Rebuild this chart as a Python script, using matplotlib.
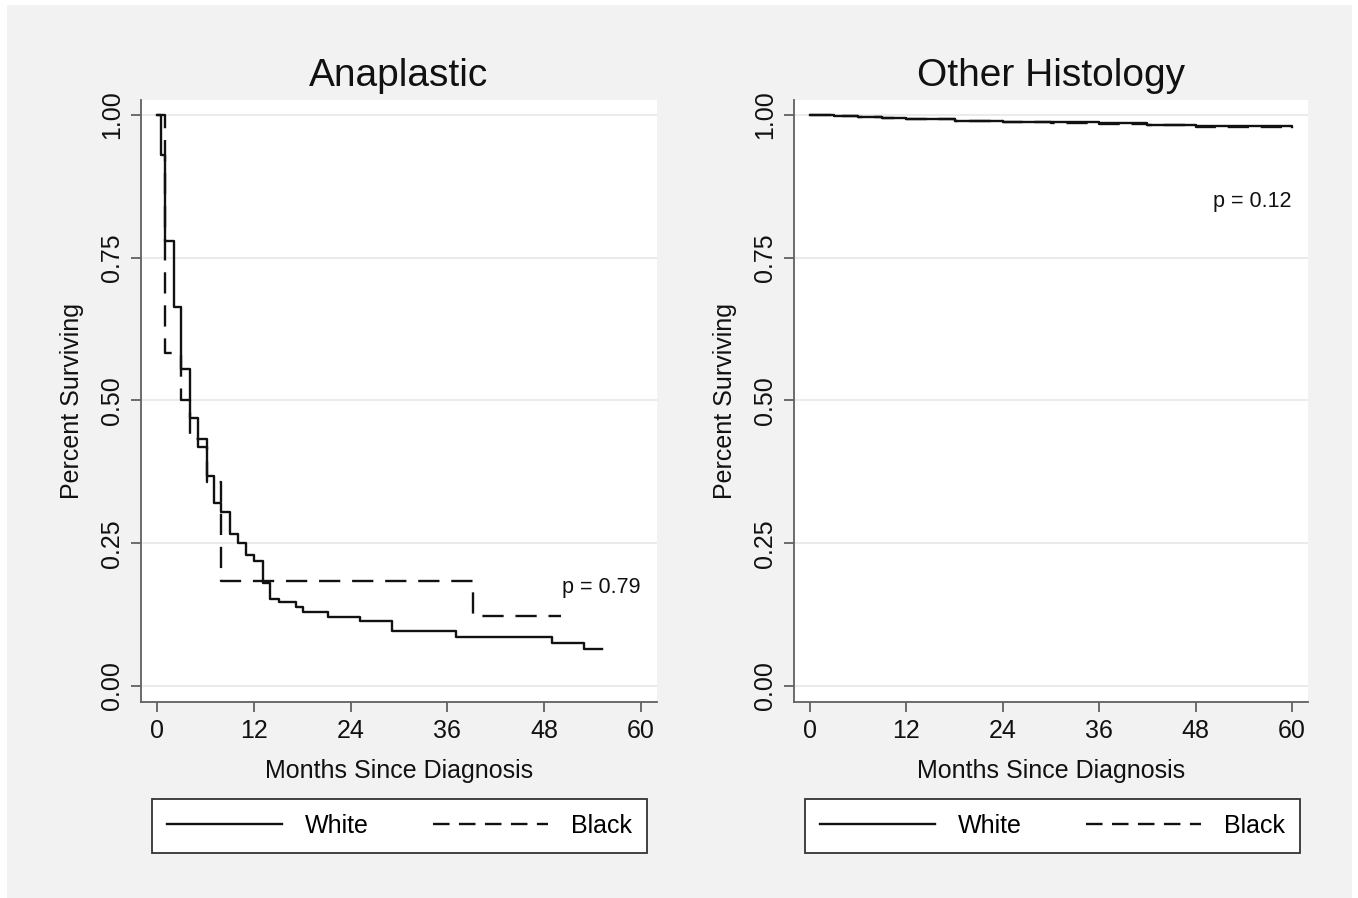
import matplotlib
matplotlib.use("Agg")
from matplotlib import pyplot as plt
from matplotlib.patches import Rectangle
from matplotlib.lines import Line2D

plt.rcParams["font.family"] = ["Liberation Sans", "DejaVu Sans"]

# Anaplastic: Kaplan-Meier steps (time of step, survival after step), last entry = end of follow-up
ana_white_t = [0, 0.5, 1.0, 2.1, 3.0, 4.1, 5.1, 6.15, 7.05, 8.0, 9.05, 10.1, 11.1, 12.0,
               13.2, 14.0, 15.1, 17.2, 18.1, 21.2, 25.2, 29.1, 37.1, 49.0, 53.0, 55.2]
ana_white_s = [1.0, 0.929, 0.78, 0.663, 0.555, 0.469, 0.419, 0.367, 0.32, 0.305, 0.267, 0.25,
               0.229, 0.219, 0.181, 0.153, 0.147, 0.138, 0.130, 0.120, 0.114, 0.097, 0.085,
               0.076, 0.065, 0.065]
ana_black_t = [0, 1.0, 3.0, 4.1, 6.15, 8.0, 39.2, 50.1]
ana_black_s = [1.0, 0.583, 0.50, 0.433, 0.358, 0.183, 0.122, 0.122]

# Other histology
oth_white_t = [0, 3, 6, 9, 12, 18, 24, 30, 36, 42, 48, 54, 60]
oth_white_s = [1.0, 0.998, 0.996, 0.994, 0.992, 0.990, 0.988, 0.987, 0.985, 0.983, 0.981, 0.980, 0.979]
oth_black_t = [0, 3, 6, 9, 12, 18, 24, 30, 36, 42, 48, 54, 60]
oth_black_s = [1.0, 0.998, 0.996, 0.994, 0.992, 0.989, 0.987, 0.985, 0.984, 0.982, 0.979, 0.978, 0.977]

titles = ["Anaplastic", "Other Histology"]
p_labels = ["p = 0.79", "p = 0.12"]
p_ypos = [0.173, 0.848]
x_ticks = [0, 12, 24, 36, 48, 60]
y_ticks = [0.0, 0.25, 0.5, 0.75, 1.0]
y_ticklabels = ["0.00", "0.25", "0.50", "0.75", "1.00"]
legend_labels = ["White", "Black"]

W, H = 1358, 898
fig = plt.figure(figsize=(W / 100, H / 100), dpi=100, facecolor="white")
fig.patches.append(Rectangle((7 / W, 0), (1352 - 7) / W, 1 - 5 / H, transform=fig.transFigure,
                             facecolor="#f2f2f2", edgecolor="none", zorder=-10))

dash = (0, (9, 5))
axes_px = [(141, 657), (794, 1308)]
series = [
    ((ana_white_t, ana_white_s), (ana_black_t, ana_black_s)),
    ((oth_white_t, oth_white_s), (oth_black_t, oth_black_s)),
]

for i, (x0, x1) in enumerate(axes_px):
    ax = fig.add_axes([x0 / W, 1 - 702 / H, (x1 - x0) / W, (702 - 100) / H])
    ax.set_facecolor("white")
    (wt, ws), (bt, bs) = series[i]
    ax.step(wt, ws, where="post", color="#111111", lw=1.7, zorder=3)
    ax.step(bt, bs, where="post", color="#111111", lw=1.7, linestyle=dash, zorder=3)

    ax.set_xlim(-1.98, 62)
    ax.set_ylim(-0.028, 1.026)
    ax.set_xticks(x_ticks)
    ax.set_yticks(y_ticks)
    ax.set_yticklabels(y_ticklabels, rotation=90, va="center")
    for y in y_ticks:
        ax.axhline(y, color="#ebebeb", lw=1.4, zorder=1)

    for side in ["top", "right"]:
        ax.spines[side].set_visible(False)
    for side in ["left", "bottom"]:
        ax.spines[side].set_color("#606060")
        ax.spines[side].set_linewidth(1.3)
    ax.tick_params(axis="both", direction="out", length=7, width=1.3, color="#606060",
                   labelsize=18, labelcolor="#111111", pad=5)

    ax.set_xlabel("Months Since Diagnosis", fontsize=18, color="#111111", labelpad=12)
    ax.set_ylabel("Percent Surviving", fontsize=18, color="#111111", labelpad=12)
    ax.set_title(titles[i], fontsize=28, color="#111111", pad=10)
    ax.text(60, p_ypos[i], p_labels[i], ha="right", va="center", fontsize=15.5, color="#111111")

    handles = [Line2D([], [], color="#111111", lw=1.7),
               Line2D([], [], color="#111111", lw=1.7, linestyle=(0, (7, 4)))]
    cx = ((x0 + 12) + (x0 + 505)) / 2 / W
    leg = fig.legend(handles, legend_labels, loc="center", bbox_to_anchor=(cx, 1 - 826 / H),
                     bbox_transform=fig.transFigure, ncol=2, fontsize=18, frameon=True,
                     fancybox=False, edgecolor="#333333", facecolor="white", framealpha=1,
                     handlelength=4.6, handletextpad=0.9, columnspacing=2.6, borderpad=0.6)
    leg.get_frame().set_linewidth(1.3)

fig.savefig("out.png", dpi=100, facecolor=fig.get_facecolor())
